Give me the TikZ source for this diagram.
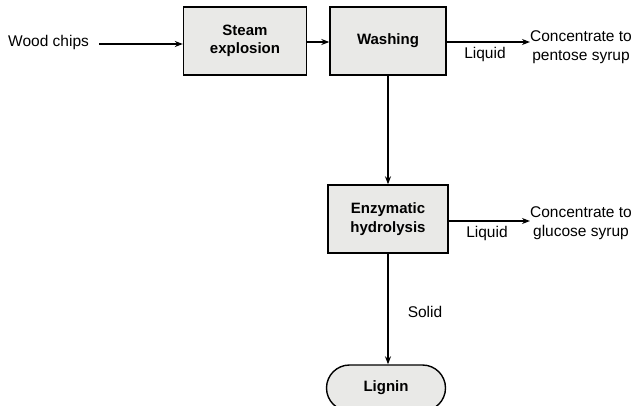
\documentclass[tikz,border=0pt]{standalone}
\usepackage{fontspec}
\setmainfont{Liberation Sans}
\usetikzlibrary{arrows.meta,positioning}
\definecolor{boxfill}{HTML}{E9E9E7}
\tikzset{
  procbox/.style={draw=black, line width=1.4pt, fill=boxfill, inner sep=0pt,
    font=\bfseries\fontsize{15}{18.5}\selectfont, align=center},
  lbl/.style={inner sep=0pt, font=\fontsize{15.5}{19.5}\selectfont, align=center},
  arr/.style={line width=1.1pt, -{Stealth[length=8pt,width=6pt]}},
}
\begin{document}
\begin{tikzpicture}[x=1pt,y=-1pt]
\useasboundingbox (0,0) rectangle (637,405);
\fill[white] (0,0) rectangle (637,405);
\begin{scope}
\clip (0,0) rectangle (637,405);
\node[lbl, anchor=west] (wood) at (8,42) {Wood chips};
\node[procbox, minimum width=123pt, minimum height=68pt] (steam) at (245,41) {Steam\\explosion};
\node[procbox, minimum width=116pt, minimum height=68pt] (wash) at (388,41) {Washing};
\node[lbl] (pentose) at (581,47) {Concentrate to\\pentose syrup};
\node[lbl] (liq1) at (485,54) {Liquid};
\node[procbox, minimum width=120pt, minimum height=68pt] (enz) at (388,219) {Enzymatic\\hydrolysis};
\node[lbl] (glucose) at (581,223) {Concentrate to\\glucose syrup};
\node[lbl] (liq2) at (487,233) {Liquid};
\node[lbl] (solid) at (425,312) {Solid};
\node[procbox, rounded corners=23pt, minimum width=119pt, minimum height=46pt] (lignin) at (386,388) {Lignin};

\draw[arr] ([xshift=10pt,yshift=-2pt]wood.east) -- ([yshift=-2pt]wood.east -| steam.west);
\draw[arr] ([yshift=-1pt]steam.east) -- ([yshift=-1pt]wash.west);
\draw[arr] ([yshift=-1pt]wash.east) -- ([yshift=-1pt]wash.east -| pentose.west);
\draw[arr] (wash.south) -- (enz.north);
\draw[arr] ([yshift=-2pt]enz.east) -- ([yshift=-2pt]enz.east -| glucose.west);
\draw[arr] (enz.south) -- (enz.south |- lignin.north);
\end{scope}
\end{tikzpicture}
\end{document}
